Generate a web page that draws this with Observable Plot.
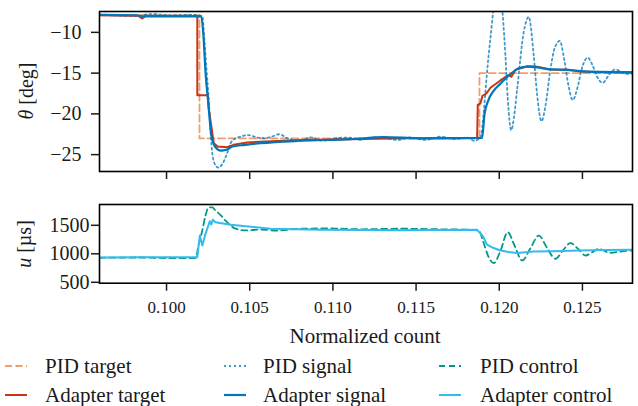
<!DOCTYPE html>
<html><head><meta charset="utf-8">
<script src="https://cdn.jsdelivr.net/npm/d3@7"></script>
<script src="https://cdn.jsdelivr.net/npm/@observablehq/plot@0.6"></script>
<style>
html,body{margin:0;padding:0;background:#fff;}
#fig{position:relative;width:638px;height:406px;font-family:'Liberation Serif','Times New Roman','DejaVu Serif',serif;color:#1a1a1a;overflow:hidden;}
#fig svg.plot{position:absolute;left:0;}
.lab{position:absolute;white-space:nowrap;transform:translate(-50%,-50%);font-size:21px;line-height:1;}
.rot{transform:translate(-50%,-50%) rotate(-90deg);font-size:20px;}
.sw{position:absolute;transform:translateY(-50%);}
.lt{position:absolute;white-space:nowrap;transform:translateY(-50%);font-size:21px;line-height:1;}
</style></head><body><div id="fig"></div>
<script>
// ---- axes ----
const xDomain = [0.09597, 0.12801];
const thetaDomain = [-27.07, -7.44];
const uDomain = [484, 1865];
const xTicks = [0.100, 0.105, 0.110, 0.115, 0.120, 0.125];
const thetaTicks = [-10, -15, -20, -25];
const uTicks = [500, 1000, 1500];

// ---- top panel: theta [deg] ----
const pidTargetX = [0.09597, 0.10198, 0.10198, 0.11881, 0.11881, 0.12801];
const pidTargetY = [-7.9, -7.9, -23.0, -23.0, -15.0, -15.0];

const pidSignalX = [0.09597, 0.09724, 0.09814, 0.09904, 0.10024, 0.10144, 0.10215, 0.10228, 0.10240, 0.10254,
  0.10264, 0.10276, 0.10294, 0.10313, 0.10337, 0.10361, 0.10385, 0.10415, 0.10445, 0.10487,
  0.10547, 0.10589, 0.10631, 0.10679, 0.10727, 0.10805, 0.10865, 0.10938, 0.11016, 0.11094,
  0.11166, 0.11238, 0.11316, 0.11394, 0.11466, 0.11557, 0.11647, 0.11737, 0.11803, 0.11851,
  0.11887, 0.11907, 0.11927, 0.11947, 0.11992, 0.12021, 0.12037, 0.12051, 0.12072, 0.12088,
  0.12108, 0.12147, 0.12177, 0.12207, 0.12228, 0.12254, 0.12278, 0.12308, 0.12332, 0.12364,
  0.12392, 0.12416, 0.12442, 0.12470, 0.12500, 0.12532, 0.12560, 0.12590, 0.12622, 0.12650,
  0.12674, 0.12698, 0.12729, 0.12759, 0.12801];
const pidSignalY = [-7.8, -7.95, -8.0, -7.75, -7.9, -7.85, -8.0, -11.0, -14.5, -18.3,
  -22.0, -25.0, -26.3, -26.6, -26.1, -25.0, -23.6, -23.0, -22.8, -22.6,
  -22.9, -23.0, -22.8, -22.5, -23.0, -23.3, -22.9, -23.3, -23.0, -22.9,
  -23.2, -22.9, -23.0, -23.2, -22.9, -23.2, -22.8, -23.1, -22.9, -23.3,
  -22.9, -19.7, -14.8, -10.7, -4.0, -7.9, -12.8, -18.1, -22.0, -20.5,
  -16.9, -10.0, -8.1, -12.8, -17.7, -20.9, -19.0, -14.5, -12.0, -11.05,
  -13.5, -16.5, -18.3, -16.8, -14.2, -13.1, -14.0, -15.5, -16.2, -15.5,
  -14.8, -14.55, -14.8, -15.1, -15.05];

const adapterTargetX = [0.09597, 0.09826, 0.09854, 0.09874, 0.10185, 0.10185, 0.10248, 0.10254, 0.10284, 0.10307,
  0.10365, 0.10403, 0.10485, 0.10595, 0.10805, 0.11106, 0.11406, 0.11647, 0.11867, 0.11871,
  0.11887, 0.11899, 0.11923, 0.11947, 0.12007, 0.12055, 0.12073, 0.12097, 0.12170, 0.12218,
  0.12308, 0.12410, 0.12488, 0.12608, 0.12801];
const adapterTargetY = [-7.9, -7.95, -8.3, -8.0, -8.0, -17.7, -17.7, -19.4, -23.6, -24.0,
  -24.1, -23.8, -23.5, -23.4, -23.2, -23.1, -23.0, -23.0, -22.95, -18.9,
  -18.7, -17.8, -17.5, -16.8, -15.9, -15.25, -15.45, -14.6, -14.15, -14.2,
  -14.55, -14.6, -14.8, -14.9, -14.9];

const adapterSignalX = [0.09597, 0.09826, 0.09856, 0.10209, 0.10222, 0.10234, 0.10252, 0.10269, 0.10294, 0.10325,
  0.10361, 0.10397, 0.10475, 0.10565, 0.10805, 0.11106, 0.11304, 0.11527, 0.11897, 0.11911,
  0.11935, 0.11965, 0.12007, 0.12049, 0.12085, 0.12116, 0.12170, 0.12230, 0.12308, 0.12410,
  0.12488, 0.12608, 0.12801];
const adapterSignalY = [-7.85, -7.9, -8.05, -8.05, -10.5, -14.8, -18.9, -22.6, -24.1, -24.5,
  -24.4, -24.0, -23.8, -23.6, -23.3, -23.1, -22.85, -23.0, -22.95, -20.1,
  -18.3, -17.2, -16.3, -15.45, -14.84, -14.4, -14.2, -14.3, -14.55, -14.6,
  -14.75, -14.85, -14.9];

// ---- bottom panel: u [µs] ----
const pidControlX = [0.09597, 0.09844, 0.10024, 0.10174, 0.10194, 0.10215, 0.10234, 0.10254, 0.10275, 0.10294,
  0.10325, 0.10355, 0.10385, 0.10415, 0.10475, 0.10565, 0.10665, 0.10805, 0.10986, 0.11166,
  0.11406, 0.11647, 0.11827, 0.11877, 0.11905, 0.11935, 0.11967, 0.12007, 0.12051, 0.12091,
  0.12138, 0.12188, 0.12238, 0.12284, 0.12338, 0.12380, 0.12428, 0.12476, 0.12518, 0.12560,
  0.12598, 0.12632, 0.12668, 0.12729, 0.12801];
const pidControlY = [930, 935, 925, 925, 1175, 1410, 1670, 1815, 1815, 1760,
  1680, 1580, 1497, 1440, 1410, 1425, 1408, 1440, 1445, 1430,
  1440, 1430, 1420, 1410, 1200, 950, 835, 1050, 1380, 1150,
  883, 1100, 1320, 1120, 912, 1050, 1186, 1080, 970, 1030,
  1088, 1050, 1018, 1040, 1058];

const adapterControlX = [0.09597, 0.09844, 0.10185, 0.10200, 0.10215, 0.10234, 0.10260, 0.10269, 0.10278, 0.10294,
  0.10385, 0.10625, 0.10926, 0.11406, 0.11867, 0.11899, 0.11927, 0.11959, 0.12007, 0.12055,
  0.12108, 0.12207, 0.12326, 0.12488, 0.12626, 0.12801];
const adapterControlY = [935, 940, 940, 1320, 1145, 1350, 1570, 1515, 1597, 1555,
  1510, 1440, 1420, 1415, 1420, 1320, 1160, 1110, 1058, 1030,
  1012, 1040, 1045, 1058, 1068, 1070];

const legendLabels = ["PID target", "PID signal", "PID control", "Adapter target", "Adapter signal", "Adapter control"];

// ---- styles ----
const C = {
  pidTarget: {stroke: "#EE7733", strokeOpacity: 0.72, strokeWidth: 1.8, strokeDasharray: "7,3.5"},
  pidSignal: {stroke: "#0077BB", strokeOpacity: 0.75, strokeWidth: 1.8, strokeDasharray: "2,3"},
  pidControl: {stroke: "#009988", strokeOpacity: 1, strokeWidth: 1.8, strokeDasharray: "6,4"},
  adapterTarget: {stroke: "#CC3311", strokeOpacity: 1, strokeWidth: 2, strokeDasharray: null},
  adapterSignal: {stroke: "#0077BB", strokeOpacity: 1, strokeWidth: 2.2, strokeDasharray: null},
  adapterControl: {stroke: "#33BBEE", strokeOpacity: 1, strokeWidth: 2, strokeDasharray: null}
};

const rows = (xs, ys) => xs.map((x, i) => ({x, y: ys[i]}));
const lineOf = (xs, ys, st, curve) => Plot.line(rows(xs, ys), {x: "x", y: "y", ...st, curve: curve || "linear", clip: true});

const fig = document.getElementById("fig");
const FONT = "'Liberation Serif', 'Times New Roman', 'DejaVu Serif', serif";
const baseStyle = {fontFamily: FONT, fontSize: "17px", color: "#1a1a1a", background: "transparent", overflow: "visible"};

const topPlot = Plot.plot({
  width: 638, height: 185,
  marginLeft: 99, marginRight: 6, marginTop: 11, marginBottom: 14,
  style: baseStyle,
  x: {domain: xDomain},
  y: {domain: thetaDomain},
  marks: [
    lineOf(pidTargetX, pidTargetY, C.pidTarget),
    lineOf(pidSignalX, pidSignalY, C.pidSignal, "monotone-x"),
    lineOf(adapterTargetX, adapterTargetY, C.adapterTarget),
    lineOf(adapterSignalX, adapterSignalY, C.adapterSignal, "monotone-x"),
    Plot.frame({stroke: "#000", strokeWidth: 1.6}),
    Plot.axisX({ticks: xTicks, tickSize: 8, tickFormat: () => "", strokeWidth: 1.5, label: null}),
    Plot.axisY({ticks: thetaTicks, tickSize: 8, tickPadding: 10, strokeWidth: 1.5, label: null, fontSize: 20})
  ]
});
topPlot.classList.add("plot");
topPlot.style.top = "0px";
fig.appendChild(topPlot);

const botPlot = Plot.plot({
  width: 638, height: 140,
  marginLeft: 99, marginRight: 6, marginTop: 19, marginBottom: 42.3,
  style: baseStyle,
  x: {domain: xDomain},
  y: {domain: uDomain},
  marks: [
    lineOf(pidControlX, pidControlY, C.pidControl, "monotone-x"),
    lineOf(adapterControlX, adapterControlY, C.adapterControl),
    Plot.frame({stroke: "#000", strokeWidth: 1.6}),
    Plot.axisX({ticks: xTicks, tickSize: 8, tickPadding: 10, tickFormat: d3.format(".3f"), strokeWidth: 1.5, label: null, fontSize: 17}),
    Plot.axisY({ticks: uTicks, tickSize: 8, tickPadding: 2, strokeWidth: 1.5, label: null, fontSize: 20, tickFormat: d3.format("d")})
  ]
});
botPlot.classList.add("plot");
botPlot.style.top = "185px";
fig.appendChild(botPlot);

// axis labels
function addLabel(html, cx, cy, rot) {
  const d = document.createElement("div");
  d.className = "lab" + (rot ? " rot" : "");
  d.innerHTML = html;
  d.style.left = cx + "px";
  d.style.top = cy + "px";
  fig.appendChild(d);
}
addLabel("<i>θ</i> [deg]", 26, 91, true);
addLabel("<i>u</i> [µs]", 24, 244, true);
addLabel("Normalized count", 365, 336, false);

// legend
const order = ["pidTarget", "pidSignal", "pidControl", "adapterTarget", "adapterSignal", "adapterControl"];
const swLeft = [5, 224, 439];
const txLeft = [45, 263, 480];
const rowY = [366, 395];
order.forEach((k, i) => {
  const col = i % 3, row = Math.floor(i / 3);
  const st = C[k];
  const ns = "http://www.w3.org/2000/svg";
  const s = document.createElementNS(ns, "svg");
  s.setAttribute("width", 22); s.setAttribute("height", 8);
  s.setAttribute("class", "sw");
  s.style.left = swLeft[col] + "px"; s.style.top = rowY[row] + "px";
  const ln = document.createElementNS(ns, "line");
  ln.setAttribute("x1", 0); ln.setAttribute("x2", 22); ln.setAttribute("y1", 4); ln.setAttribute("y2", 4);
  ln.setAttribute("stroke", st.stroke); ln.setAttribute("stroke-opacity", st.strokeOpacity);
  ln.setAttribute("stroke-width", st.strokeWidth);
  if (st.strokeDasharray) ln.setAttribute("stroke-dasharray", st.strokeDasharray);
  s.appendChild(ln);
  fig.appendChild(s);
  const t = document.createElement("div");
  t.className = "lt"; t.textContent = legendLabels[i];
  t.style.left = txLeft[col] + "px"; t.style.top = rowY[row] + "px";
  fig.appendChild(t);
});
</script></body></html>
